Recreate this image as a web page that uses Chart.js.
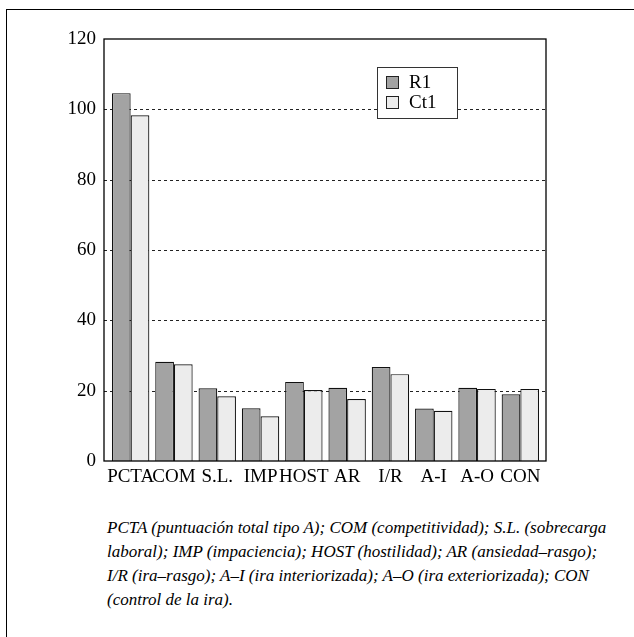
<!DOCTYPE html>
<html>
<head>
<meta charset="utf-8" />
<title>R1 vs Ct1</title>
<script src="https://cdn.jsdelivr.net/npm/chart.js@4.4.0/dist/chart.umd.min.js"></script>
<style>
    html, body { margin: 0; padding: 0; background: #fff; }
    #page { position: relative; width: 634px; height: 637px; overflow: hidden; }
    #frame { position: absolute; left: 6px; top: 9px; width: 640px; height: 640px;
             border-left: 1px solid #000; border-top: 1px solid #000; }
    #chartBox { position: absolute; left: 0; top: 0; width: 634px; height: 500px; }
    #caption { position: absolute; left: 107px; top: 516px; width: 520px;
               font-family: "Liberation Serif", serif; font-style: italic;
               font-size: 17px; line-height: 24px; color: #000; white-space: nowrap; }
</style>
</head>
<body>
<div id="page">
    <div id="frame"></div>
    <div id="chartBox"><canvas id="grafico" width="634" height="500"></canvas></div>
    <div id="caption">
        PCTA (puntuación total tipo A); COM (competitividad); S.L. (sobrecarga<br>
        laboral); IMP (impaciencia); HOST (hostilidad); AR (ansiedad–rasgo);<br>
        I/R (ira–rasgo); A–I (ira interiorizada); A–O (ira exteriorizada); CON<br>
        (control de la ira).
    </div>
</div>
<script type="text/javascript">
    // data
    var categorias = ["PCTA", "COM", "S.L.", "IMP", "HOST", "AR", "I/R", "A-I", "A-O", "CON"];
    var valoresR1  = [104.6, 28.2, 20.7, 15.0, 22.5, 20.8, 26.7, 14.9, 20.8, 19.0];
    var valoresCt1 = [98.3, 27.5, 18.4, 12.7, 20.2, 17.6, 24.7, 14.3, 20.5, 20.5];
    var ticksY     = [0, 20, 40, 60, 80, 100, 120];

    var serif = "'Liberation Serif', serif";

    // dashed grid + frame + legend box, drawn by hand to look like the print figure
    var marco = {
        id: 'marco',
        beforeDatasetsDraw: function(chart) {
            var ctx = chart.ctx, a = chart.chartArea, y = chart.scales.y;
            ctx.save();
            ctx.strokeStyle = '#222';
            ctx.lineWidth = 1;
            ctx.setLineDash([3, 3]);
            ticksY.forEach(function(v) {
                if (v === 0 || v === 120) return;
                var py = Math.round(y.getPixelForValue(v)) + 0.5;
                ctx.beginPath();
                ctx.moveTo(a.left - 5, py);
                ctx.lineTo(a.right + 4, py);
                ctx.stroke();
            });
            ctx.restore();
        },
        afterDatasetsDraw: function(chart) {
            var ctx = chart.ctx, a = chart.chartArea;
            ctx.save();
            ctx.strokeStyle = '#000';
            ctx.lineWidth = 1.3;
            ctx.strokeRect(Math.round(a.left - 5), Math.round(a.top), Math.round(a.right + 4) - Math.round(a.left - 5), Math.round(a.bottom - a.top));

            // legend
            var lx = 377, ly = 67, lw = 80, lh = 51;
            ctx.fillStyle = '#fff';
            ctx.fillRect(lx, ly, lw, lh);
            ctx.lineWidth = 1;
            ctx.strokeStyle = '#333';
            ctx.strokeRect(lx + 0.5, ly + 0.5, lw, lh);
            ctx.font = '19px ' + serif;
            ctx.textBaseline = 'middle';
            chart.data.datasets.forEach(function(ds, i) {
                var sy = ly + 9 + i * 20;
                ctx.fillStyle = ds.backgroundColor;
                ctx.fillRect(lx + 9, sy, 12, 12);
                ctx.strokeStyle = '#222';
                ctx.strokeRect(lx + 9.5, sy + 0.5, 12, 12);
                ctx.fillStyle = '#000';
                ctx.fillText(ds.label, lx + 32, sy + 7);
            });
            ctx.restore();
        }
    };

    var config = {
        type: 'bar',
        data: {
            labels: categorias,
            datasets: [{
                label: 'R1',
                data: valoresR1,
                backgroundColor: '#a3a3a3',
                borderColor: '#111',
                borderWidth: 1.2
            }, {
                label: 'Ct1',
                data: valoresCt1,
                backgroundColor: '#ececec',
                borderColor: '#111',
                borderWidth: 1.2
            }]
        },
        options: {
            responsive: false,
            animation: false,
            layout: { padding: { left: 0, top: 39, right: 92, bottom: 0 } },
            plugins: { legend: { display: false }, tooltip: { enabled: false } },
            datasets: { bar: { categoryPercentage: 0.864, barPercentage: 1.0 } },
            scales: {
                x: {
                    grid: { display: false, drawTicks: false },
                    border: { display: false },
                    ticks: { color: '#000', font: { family: serif, size: 19 }, padding: 5, maxRotation: 0, autoSkip: false },
                    afterFit: function(s) { s.height = 39; }
                },
                y: {
                    min: 0, max: 120,
                    grid: { display: false, drawTicks: false },
                    border: { display: false },
                    afterBuildTicks: function(s) { s.ticks = ticksY.map(function(v) { return { value: v }; }); },
                    ticks: { color: '#000', font: { family: serif, size: 19 }, padding: 13 },
                    afterFit: function(s) { s.width = 109; }
                }
            }
        },
        plugins: [marco]
    };

    var ctx = document.getElementById("grafico").getContext("2d");
    var grafico = new Chart(ctx, config);
</script>
</body>
</html>
